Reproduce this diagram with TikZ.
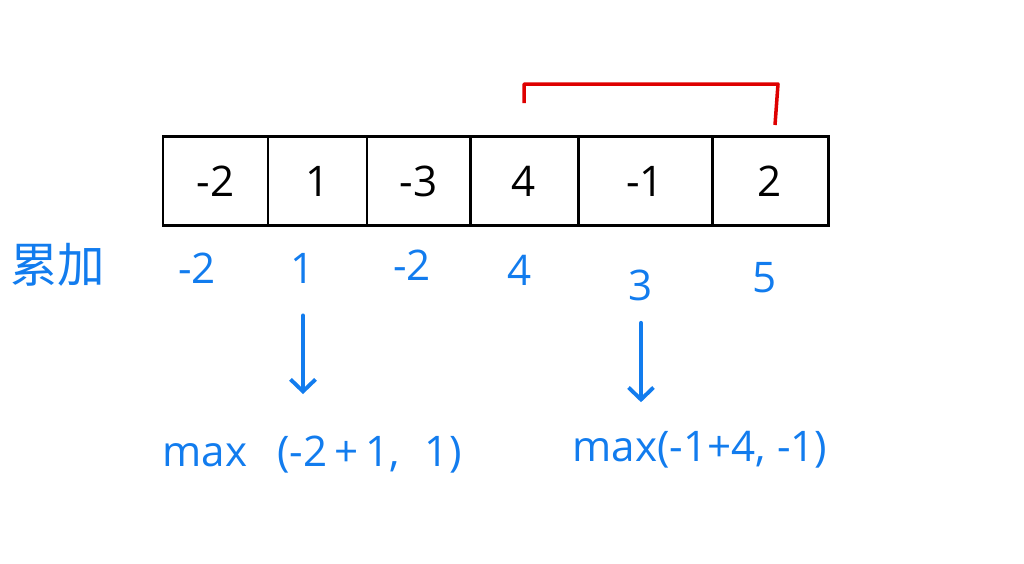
\documentclass[tikz,border=0pt]{standalone}
\usepackage{fontspec}
\setmainfont{Open Sans}
\newfontfamily\cjkfont{Noto Sans CJK SC}
\definecolor{inkBlue}{RGB}{18, 124, 238}
\definecolor{inkRed}{RGB}{222, 0, 0}
\usetikzlibrary{positioning,calc,arrows.meta}

\begin{document}
\begin{tikzpicture}[x=0.02cm,y=-0.02cm,
    cell/.style={draw,line width=1.7pt,minimum height=1.8cm,inner sep=0pt,outer sep=0pt,font=\fontsize{24}{28}\selectfont},
    sumval/.style={text=inkBlue,inner sep=0pt,font=\fontsize{24}{28}\selectfont},
    sumarrow/.style={-{Straight Barb[length=0.24cm,width=0.5cm]},inkBlue,line width=2.2pt,line cap=round},
    bracket/.style={inkRed,line width=2pt,line join=round}]
    \useasboundingbox (0,0) rectangle (1024,564);
    % Array cells
    \foreach \x/\w/\v [count=\i] in {215.5/105/-2, 317.5/99/1, 418.5/103/-3, 524/108/4, 645/134/-1, 770/116/2}
        \node[cell,minimum width=\w*0.02cm] (c\i) at (\x,181) {\v};

    % Running sums
    \node[sumval,font=\fontsize{27}{30}\selectfont\cjkfont] (acc) at (58,265) {累加};
    \foreach \x/\y/\v [count=\i] in {197/268/-2, 303/268/1, 412/265/-2, 520/270/4, 641/285/3, 765/278/5}
        \node[sumval] (s\i) at (\x,\y) {\v};

    % Max steps
    \node[sumval] (m1) at (312,455) {max\hspace{0.6cm}(-2\,+\,1,\hspace{0.5cm}1)};
    \node[sumval] (m2) at (700,450) {max(-1+4, -1)};
    \draw[sumarrow,shorten <=0.64cm,shorten >=0.84cm] (s2.south) -- (s2.south |- m1.north);
    \draw[sumarrow,shorten <=0.44cm,shorten >=0.58cm] (s5.south) -- (s5.south |- m2.north);

    % Best subarray
    \draw[bracket] ([yshift=0.66cm]c4.north) |- ([xshift=0.16cm,yshift=1.04cm]c6.north) -- ([xshift=0.1cm,yshift=0.22cm]c6.north);
\end{tikzpicture}
\end{document}
